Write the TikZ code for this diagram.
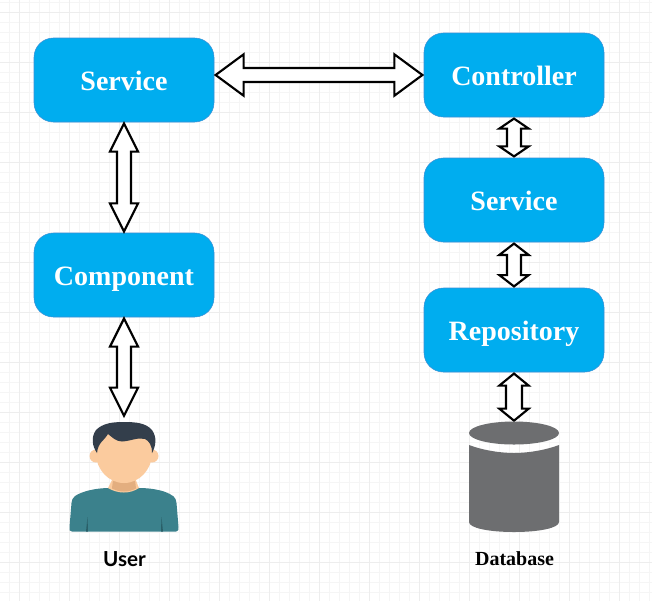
\documentclass[tikz,border=0pt]{standalone}
\usepackage{fontspec}
\setmainfont{Liberation Serif}
\newfontfamily\labelfont{Lato}
\usetikzlibrary{calc}
\definecolor{mbox}{HTML}{00ADEF}
\definecolor{mboxline}{HTML}{3A8FD6}
\definecolor{mdisk}{HTML}{6D6E70}
\definecolor{mshirt}{HTML}{3B818C}
\definecolor{mfold}{HTML}{2A5F68}
\definecolor{mhair}{HTML}{333E4B}
\definecolor{mskin}{HTML}{FBCB9E}
\definecolor{mneck}{HTML}{E3AE7F}
\tikzset{layerbox/.style = {draw=mboxline, fill=mbox, rounded corners=14.5pt, minimum width=135pt, minimum height=63pt, inner sep=0, text=white, text height=15.5pt, text depth=0pt, font=\fontsize{21}{21}\selectfont\bfseries}}
\tikzset{minorgrid/.style = {draw=black!4, line width=0.5pt}}
\tikzset{majorgrid/.style = {draw=black!7, line width=0.5pt}}
\tikzset{hollow/.style = {draw, fill=white, line width=1.6pt, line join=miter, miter limit=4}}
% from, to, head length, half head width, half shaft width (all in pt)
\newcommand{\hollowarrow}[5]{
  \coordinate (t1) at ($(#1)!1pt!(#2)$);
  \coordinate (t2) at ($(#2)!1pt!(#1)$);
  \coordinate (h1) at ($(t1)!#3!(t2)$);
  \coordinate (h2) at ($(t2)!#3!(t1)$);
  \draw [hollow] (t1) -- ($(h1)!#4!90:(t2)$) -- ($(h1)!#5!90:(t2)$) -- ($(h2)!#5!-90:(t1)$) -- ($(h2)!#4!-90:(t1)$)
    -- (t2) -- ($(h2)!#4!90:(t1)$) -- ($(h2)!#5!90:(t1)$) -- ($(h1)!#5!-90:(t2)$) -- ($(h1)!#4!-90:(t2)$) -- cycle;
}

\begin{document}
\begin{tikzpicture}[x=0.75pt, y=-0.75pt]
    \useasboundingbox (0, 0) rectangle (652, 601);
    \fill [white] (0, 0) rectangle (652, 601);

    \foreach \gx in {9.5, 19.5, ..., 649.5} \draw [minorgrid] (\gx, 0) -- (\gx, 601);
    \foreach \gy in {2.5, 12.5, ..., 592.5} \draw [minorgrid] (0, \gy) -- (652, \gy);
    \foreach \gx in {19.5, 69.5, ..., 619.5} \draw [majorgrid] (\gx, 0) -- (\gx, 601);
    \foreach \gy in {12.5, 62.5, ..., 562.5} \draw [majorgrid] (0, \gy) -- (652, \gy);

    \node [layerbox] (service) at (124, 80) {Service};
    \node [layerbox] (component) at (124, 275) {Component};
    \node [layerbox] (controller) at (514, 75) {Controller};
    \node [layerbox] (backservice) at (514, 200) {Service};
    \node [layerbox] (repository) at (514, 330) {Repository};

    \coordinate (usertop) at (124, 417);
    \coordinate (dbtop) at (514, 422);

    \hollowarrow{service.east |- controller.west}{controller.west}{21pt}{15.5pt}{5.25pt}
    \hollowarrow{service.south}{component.north}{21pt}{10.5pt}{5.25pt}
    \hollowarrow{component.south}{usertop}{21pt}{10.5pt}{5.25pt}
    \hollowarrow{controller.south}{backservice.north}{7.5pt}{11pt}{5.25pt}
    \hollowarrow{backservice.south}{repository.north}{8.5pt}{11pt}{5.25pt}
    \hollowarrow{repository.south}{dbtop}{9pt}{11pt}{6pt}

    % database
    \fill [mdisk] (469, 445) .. controls (482, 450) and (500, 453) .. (514, 453) .. controls (528, 453) and (546, 450) .. (559, 445)
      -- (559, 522) .. controls (559, 528) and (539, 532) .. (514, 532) .. controls (489, 532) and (469, 528) .. (469, 522) -- cycle;
    \fill [mdisk] (514, 433) ellipse [x radius=45, y radius=11.5];
    \node [font=\fontsize{15}{15}\selectfont\bfseries] (dblabel) at (514.5, 559) {Database};

    % user
    \fill [mshirt] (72, 531.5) .. controls (69.5, 531.5) and (69, 530) .. (69.5, 527) -- (71.5, 503) .. controls (72, 497) and (75, 495) .. (85, 491.5)
      .. controls (93, 489) and (102, 488) .. (110, 488) -- (139, 488) .. controls (147, 488) and (156, 489) .. (164, 491.5)
      .. controls (173, 495) and (176, 497) .. (176.5, 503) -- (178.5, 527) .. controls (179, 530) and (178, 531.5) .. (176, 531.5) -- cycle;
    \fill [mfold] (86, 531.5) -- (87.5, 517) -- (88, 531.5) -- cycle;
    \fill [mfold] (161, 531.5) -- (161.5, 517) -- (163, 531.5) -- cycle;
    \fill [mskin] (108, 488) -- (113, 478) -- (135, 478) -- (139, 488) .. controls (130, 494) and (118, 494) .. (108, 488) -- cycle;
    \fill [mneck] (113, 480) -- (135, 480) -- (136, 488.5) .. controls (128, 492.5) and (120, 492.5) .. (112, 488.5) -- cycle;
    \fill [mskin] (96, 456) circle [radius=6.5];
    \fill [mskin] (152, 456) circle [radius=6.5];
    \fill [mskin] (124, 453) ellipse [x radius=28, y radius=30];
    \fill [mhair] (97, 453) .. controls (92, 446) and (91, 437) .. (96, 430) .. controls (103, 423) and (113, 422) .. (124, 422)
      .. controls (136, 422) and (146, 423) .. (152, 430) .. controls (157, 437) and (156, 446) .. (152, 453)
      .. controls (152, 445) and (149, 441) .. (145, 439) .. controls (138, 437) and (131, 441) .. (122, 441.5)
      .. controls (116, 441.5) and (112, 437) .. (108, 434) .. controls (105, 440) and (98, 442) .. (97, 453) -- cycle;
    \node [font=\labelfont\fontsize{15.5}{15.5}\selectfont\bfseries] (userlabel) at (124.5, 559) {User};
  \end{tikzpicture}
\end{document}
